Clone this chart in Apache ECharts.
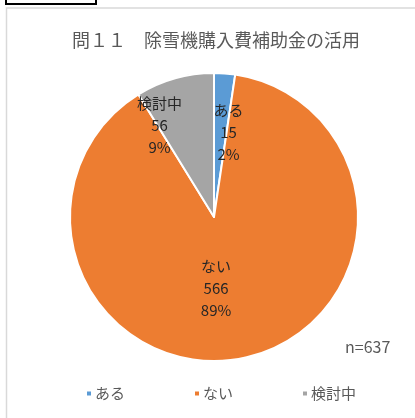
<!DOCTYPE html>
<html>
<head>
<meta charset="utf-8">
<script src="https://cdn.jsdelivr.net/npm/echarts@6/dist/echarts.min.js"></script>
<style>
  html, body { margin: 0; padding: 0; background: #fff; }
  #chart { width: 415px; height: 418px; }
</style>
</head>
<body>
<div id="chart"></div>
<script>
// 問11 の回答
const categories = ['ある', 'ない', '検討中'];
const counts = [15, 566, 56];
const percents = ['2%', '89%', '9%'];
const total = 637;

const colors = ['#5B9BD5', '#ED7D31', '#A5A5A5'];
// Excel風のラベル位置に寄せるためのずらし
const labelOffsets = [[9, -10], [-13, -2], [-34, -20]];

const font = '"Noto Sans CJK JP", "Noto Sans", sans-serif';

let chart = echarts.init(document.getElementById('chart'));
chart.setOption({
  animation: false,
  color: colors,
  title: [
    {
      text: '問１１　除雪機購入費補助金の活用',
      left: 67,
      top: 26,
      textStyle: { fontFamily: font, fontSize: 18, fontWeight: 'normal', color: '#595959' }
    },
    {
      text: 'n=' + total,
      left: 340,
      top: 334,
      textStyle: { fontFamily: font, fontSize: 16, fontWeight: 'normal', color: '#595959' }
    }
  ],
  legend: {
    data: categories,
    bottom: 12,
    left: 80,
    icon: 'rect',
    itemWidth: 6,
    itemHeight: 6,
    itemGap: 68,
    textStyle: { fontFamily: font, fontSize: 15, color: '#595959', padding: [0, 0, 0, -2] }
  },
  graphic: [
    // 外枠
    { type: 'rect', shape: { x: 6.5, y: 8, width: 600, height: 600 },
      style: { fill: 'none', stroke: '#d9d9d9', lineWidth: 1.5 }, silent: true },
    // 左上の黒枠
    { type: 'rect', shape: { x: 6, y: -20, width: 90, height: 24 },
      style: { fill: 'none', stroke: '#000', lineWidth: 2 }, silent: true }
  ],
  series: [
    {
      type: 'pie',
      center: [214, 217],
      radius: [0, 144],
      startAngle: 90,
      clockwise: true,
      itemStyle: { borderColor: '#fff', borderWidth: 2 },
      label: {
        show: true,
        position: 'inside',
        fontFamily: font,
        fontSize: 15,
        lineHeight: 22,
        color: '#262626',
        formatter: function (p) {
          return p.name + '\n' + p.value + '\n' + percents[p.dataIndex];
        }
      },
      labelLine: { show: false },
      data: categories.map(function (c, i) {
        return { name: c, value: counts[i], label: { offset: labelOffsets[i] } };
      })
    }
  ]
});
</script>
</body>
</html>
